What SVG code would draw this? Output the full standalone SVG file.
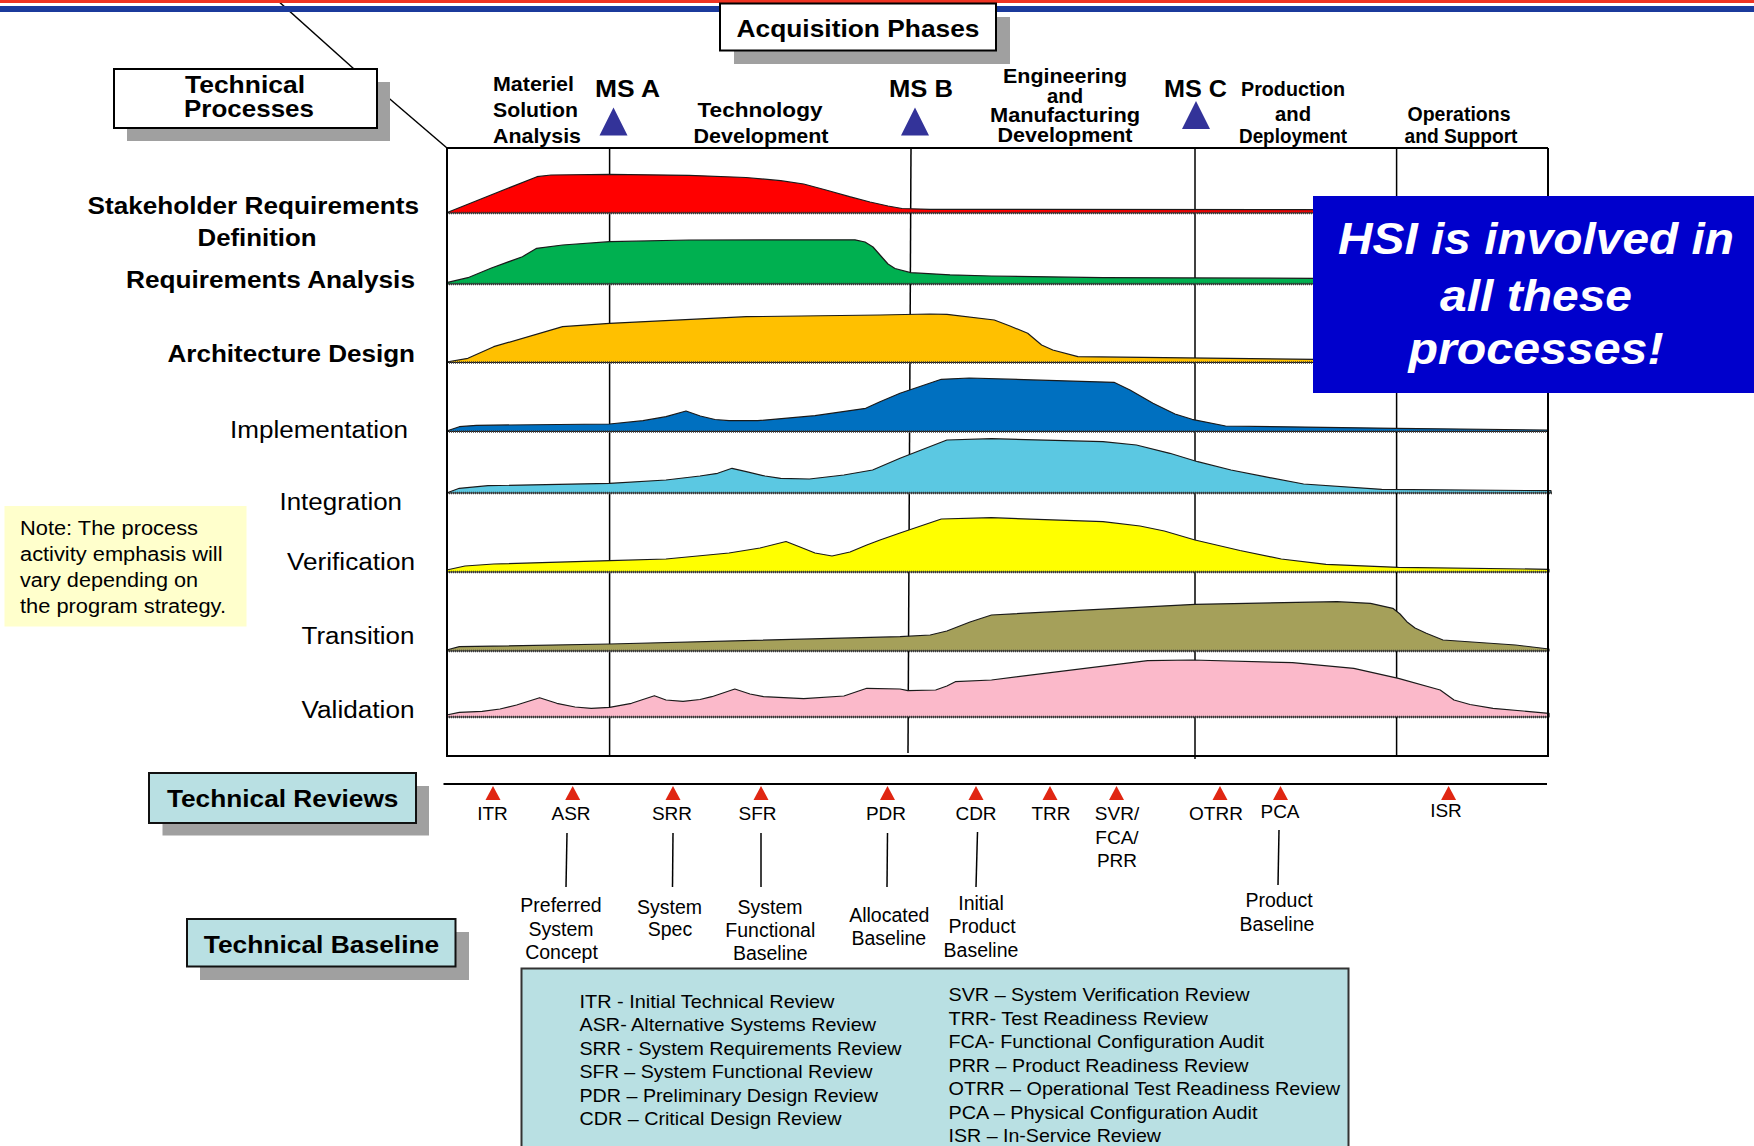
<svg xmlns="http://www.w3.org/2000/svg" xmlns:xlink="http://www.w3.org/1999/xlink" width="1754" height="1146" viewBox="0 0 1754 1146">
  <style>
    text { font-family: "Liberation Sans", Arial, Helvetica, sans-serif; fill: #000; }
    .b { font-weight: bold; }
    .mid { text-anchor: middle; }
    .end { text-anchor: end; }
    .phase { font-size: 21px; font-weight: bold; }
    .ms { font-size: 24px; font-weight: bold; }
    .row { font-size: 23px; font-weight: bold; }
    .rowr { font-size: 23.5px; }
    .rev { font-size: 19px; text-anchor: middle; }
    .base { font-size: 19.5px; text-anchor: middle; }
    .leg { font-size: 18.5px; }
    .note { font-size: 20px; }
    .hsi { font-size: 45px; font-weight: bold; font-style: italic; fill: #fff; text-anchor: middle; }
    .title { font-size: 24px; font-weight: bold; text-anchor: middle; }
    .frame { stroke: #000; stroke-width: 2; fill: none; }
    .grid { stroke: #000; stroke-width: 1.5; fill: none; }
    .curve { stroke: #1a1a1a; stroke-width: 1.2; stroke-linejoin: round; }
    .sep { stroke: #3a3a3a; stroke-width: 2.6; stroke-dasharray: 1 1; fill: none; }
    .shadow { fill: #a0a0a0; }
    .teal { fill: #b9e0e3; stroke: #111; stroke-width: 2; }
    .wbox { fill: #fff; stroke: #000; stroke-width: 2; }
    .lead { stroke: #000; stroke-width: 1.5; fill: none; }
  </style>
  <defs>
    <path id="msTri" d="M0,0 L14,28 L-14,28 Z" fill="#333399"/>
    <path id="revTri" d="M0,0 L7.5,14 L-7.5,14 Z" fill="#e02612"/>
  </defs>

  <rect x="0" y="0" width="1754" height="1146" fill="#fff"/>

  <!-- leader lines from the Technical Processes label -->
  <g id="connectors">
    <line class="lead" x1="277" y1="0" x2="354" y2="69"/>
    <line class="lead" x1="377" y1="88" x2="447" y2="148"/>
    <!-- review to baseline ties -->
    <line class="lead" x1="567" y1="833" x2="566" y2="887"/>
    <line class="lead" x1="673" y1="833" x2="672.5" y2="887"/>
    <line class="lead" x1="761" y1="833" x2="761" y2="887"/>
    <line class="lead" x1="887.5" y1="833" x2="887" y2="887"/>
    <line class="lead" x1="977.5" y1="832" x2="976" y2="887"/>
    <line class="lead" x1="1279" y1="830" x2="1278" y2="885"/>
  </g>

  <!-- header stripes -->
  <g id="header-bars">
    <rect x="0" y="0" width="1754" height="3" fill="#ee3322"/>
    <rect x="0" y="6" width="1754" height="6" fill="#1b3a9c"/>
  </g>

  <!-- label boxes -->
  <g id="acquisition-phases">
    <rect class="shadow" x="734" y="17" width="276" height="47"/>
    <rect class="wbox" x="720" y="3.5" width="276" height="47"/>
    <text class="title" x="858" y="37" font-size="25.5" textLength="243" lengthAdjust="spacingAndGlyphs">Acquisition Phases</text>
  </g>

  <g id="technical-processes">
    <rect class="shadow" x="127" y="82" width="263" height="59"/>
    <rect class="wbox" x="114" y="69" width="263" height="59"/>
    <text class="title" x="245" y="93" font-size="23" textLength="120" lengthAdjust="spacingAndGlyphs">Technical</text>
    <text class="title" x="249" y="117" font-size="23" textLength="130" lengthAdjust="spacingAndGlyphs">Processes</text>
  </g>

  <!-- acquisition phase headings and milestones -->
  <g id="phases">
    <text class="phase" x="493" y="91" textLength="81" lengthAdjust="spacingAndGlyphs">Materiel</text>
    <text class="phase" x="493" y="117" textLength="85" lengthAdjust="spacingAndGlyphs">Solution</text>
    <text class="phase" x="493" y="143" textLength="88" lengthAdjust="spacingAndGlyphs">Analysis</text>
    <text class="phase mid" x="760" y="117" textLength="125" lengthAdjust="spacingAndGlyphs">Technology</text>
    <text class="phase mid" x="761" y="143" textLength="135" lengthAdjust="spacingAndGlyphs">Development</text>
    <text class="phase mid" x="1065" y="83" textLength="124" lengthAdjust="spacingAndGlyphs">Engineering</text>
    <text class="phase mid" x="1065" y="102.5" textLength="36" lengthAdjust="spacingAndGlyphs">and</text>
    <text class="phase mid" x="1065" y="122" textLength="150" lengthAdjust="spacingAndGlyphs">Manufacturing</text>
    <text class="phase mid" x="1065" y="142" textLength="135" lengthAdjust="spacingAndGlyphs">Development</text>
    <text class="phase mid" x="1293" y="96" font-size="20" textLength="104" lengthAdjust="spacingAndGlyphs">Production</text>
    <text class="phase mid" x="1293" y="120.5" font-size="20" textLength="36" lengthAdjust="spacingAndGlyphs">and</text>
    <text class="phase mid" x="1293" y="142.5" font-size="20" textLength="108" lengthAdjust="spacingAndGlyphs">Deployment</text>
    <text class="phase mid" x="1459" y="120.5" font-size="20" textLength="103" lengthAdjust="spacingAndGlyphs">Operations</text>
    <text class="phase mid" x="1461" y="142.5" font-size="20" textLength="113" lengthAdjust="spacingAndGlyphs">and Support</text>
  </g>
  <g id="milestone-a">
    <text class="ms" x="595" y="97" textLength="65" lengthAdjust="spacingAndGlyphs">MS A</text>
    <use xlink:href="#msTri" x="613.5" y="107.5"/>
  </g>
  <g id="milestone-b">
    <text class="ms" x="889" y="97" textLength="64" lengthAdjust="spacingAndGlyphs">MS B</text>
    <use xlink:href="#msTri" x="915" y="107.5"/>
  </g>
  <g id="milestone-c">
    <text class="ms" x="1164" y="97" textLength="63" lengthAdjust="spacingAndGlyphs">MS C</text>
    <use xlink:href="#msTri" x="1196" y="101"/>
  </g>

  <!-- chart grid: phase dividers sit beneath the activity profiles -->
  <g id="chart-grid">
    <line class="grid" x1="609.6" y1="148" x2="609.6" y2="756"/>
    <line class="grid" x1="911" y1="148" x2="908" y2="753"/>
    <line class="grid" x1="1195" y1="148" x2="1195" y2="759"/>
    <line class="grid" x1="1396.6" y1="148" x2="1396.6" y2="756"/>
  </g>

  <!-- activity emphasis profiles -->
  <g id="stakeholder-requirements">
    <path class="curve" fill="#ff0000" d="M446.6,213 L446.6,212.7 L537,176.7 L551,175 L609.6,174.3 L689,175.3 L746,177.5 L780.7,180.7 L803.7,184 L826,190 L849.6,196.7 L870,202 L888,206 L902,208.5 L930,209.3 L1548,209.8 L1548,213 Z"/>
  </g>
  <g id="requirements-analysis">
    <path class="curve" fill="#00b050" d="M446.6,284 L446.6,282.7 L467.9,277.7 L490.8,268.3 L522.4,256.7 L536.7,248.3 L562.6,245 L609.6,241.7 L689,240 L855,239.8 L865,242 L873,247 L880,255 L888,264 L895,268.5 L910.7,272.7 L950,274.8 L991.5,276 L1103,277.7 L1314.8,278.3 L1548,278.5 L1548,284 Z"/>
  </g>
  <g id="architecture-design">
    <path class="curve" fill="#ffc000" d="M446.6,362.5 L446.6,362 L467.9,358.3 L493.7,346.7 L562.6,326.7 L609.6,323.3 L746.3,316.7 L880,315 L930,314 L947,314.3 L994.3,320 L1010,326 L1027.7,333.3 L1041.6,345 L1052.8,350 L1077.9,356.7 L1314.8,359.3 L1548,359.5 L1548,362.5 Z"/>
  </g>
  <g id="implementation">
    <path class="curve" fill="#0070c0" d="M446.6,431.5 L446.6,431 L459.3,426.7 L476.5,425.3 L609.6,424 L643,420.7 L666,416.7 L686,411 L700.3,416 L715,419.5 L729,420.7 L757.7,420.7 L815,415.7 L865.7,408.3 L880,401.7 L900,393.3 L941.3,379.3 L969.2,378 L1114,382.3 L1130,390 L1153,403.3 L1175,414 L1192,419.3 L1225.6,426 L1395.6,428.3 L1548,430 L1548,431.5 Z"/>
  </g>
  <g id="integration">
    <path class="curve" fill="#5bc8e2" d="M446.6,493 L459.3,488.3 L488,485.7 L609.6,483.3 L666,480 L700,476 L717.6,473.3 L732,468.3 L746.3,471.7 L765,476 L780.7,478.3 L809.4,479 L843.9,475 L872.6,470 L900,458.3 L946.9,440 L991.5,438.7 L1103,441.7 L1136.4,445 L1169.9,453.3 L1197.7,461.7 L1231,470 L1264.6,476.7 L1303.6,484 L1381.7,489.3 L1551,490.7 L1551,493 Z"/>
  </g>
  <g id="verification">
    <path class="curve" fill="#ffff00" d="M446.6,572 L446.6,570 L465,566 L493.7,564 L609.6,560.7 L666,559 L729,553 L760,548 L786,541.5 L800,547 L815,553 L832,556 L850,552 L866.8,545 L880,540 L900,533 L941.3,519 L991.5,517.7 L1103,521.7 L1140,526 L1164.3,531 L1195,540 L1240,550.5 L1281.3,559 L1326,564.3 L1398.4,567.3 L1549,569.3 L1549,572 Z"/>
  </g>
  <g id="transition">
    <path class="curve" fill="#a5a05a" d="M446.6,651 L446.6,650 L459.3,646.7 L609.6,644 L900,636.7 L930.2,635 L946.9,631 L970,622 L991.5,615 L1195,604.3 L1337,601.7 L1370.5,603.3 L1392.8,608.3 L1400,614 L1406.8,621.7 L1415,628 L1426.3,633.3 L1443,640 L1515.5,645 L1549,649 L1549,651 Z"/>
  </g>
  <g id="validation">
    <path class="curve" fill="#fbb9ca" d="M446.6,717 L446.6,715 L459.3,712.3 L482.2,711.3 L500,709 L516.6,705 L539.6,697.7 L556.8,703.3 L575,707 L591.3,708.3 L609.6,707.3 L631.5,703.3 L654.4,695.7 L666,700 L683,701.3 L700,699.5 L711.8,696.7 L734.8,689 L750,694 L763.5,696.7 L803.7,698.7 L843.9,696 L866.8,688.3 L900,689 L907.9,690.7 L935.7,690 L946.9,686 L955.3,681.7 L991.5,680 L1147.6,660.7 L1192,660 L1292.5,662.7 L1353.8,668.3 L1398.4,678.3 L1440.2,690 L1454,700 L1470,704.5 L1493,708.3 L1549,713.3 L1549,717 Z"/>
  </g>

  <!-- row baselines and chart frame -->
  <g id="row-baselines">
    <line class="sep" x1="447" y1="213" x2="1548" y2="213"/>
    <line class="sep" x1="447" y1="284" x2="1548" y2="284"/>
    <line class="sep" x1="447" y1="362.5" x2="1548" y2="362.5"/>
    <line class="sep" x1="447" y1="431.5" x2="1548" y2="431.5"/>
    <line class="sep" x1="447" y1="493" x2="1552" y2="493"/>
    <line class="sep" x1="447" y1="572" x2="1548" y2="572"/>
    <line class="sep" x1="447" y1="651" x2="1548" y2="651"/>
    <line class="sep" x1="447" y1="717" x2="1548" y2="717"/>
  </g>
  <g id="chart-frame">
    <line class="frame" x1="447" y1="148" x2="1548" y2="148"/>
    <line class="frame" x1="447" y1="148" x2="447" y2="757"/>
    <line class="frame" x1="1548" y1="148" x2="1548" y2="757"/>
    <line class="frame" x1="446" y1="756" x2="1549" y2="756" stroke-width="2.5"/>
  </g>

  <!-- process names -->
  <g id="process-labels">
    <text class="row end" x="419" y="214" textLength="331.5" lengthAdjust="spacingAndGlyphs">Stakeholder Requirements</text>
    <text class="row mid" x="257" y="246" textLength="119" lengthAdjust="spacingAndGlyphs">Definition</text>
    <text class="row end" x="415" y="288" textLength="289" lengthAdjust="spacingAndGlyphs">Requirements Analysis</text>
    <text class="row end" x="415" y="362" textLength="247.5" lengthAdjust="spacingAndGlyphs">Architecture Design</text>
    <text class="rowr end" x="408" y="438" textLength="178" lengthAdjust="spacingAndGlyphs">Implementation</text>
    <text class="rowr end" x="402" y="510" textLength="122.5" lengthAdjust="spacingAndGlyphs">Integration</text>
    <text class="rowr end" x="415" y="570" textLength="128" lengthAdjust="spacingAndGlyphs">Verification</text>
    <text class="rowr end" x="414.5" y="644" textLength="113" lengthAdjust="spacingAndGlyphs">Transition</text>
    <text class="rowr end" x="414.5" y="717.5" textLength="113" lengthAdjust="spacingAndGlyphs">Validation</text>
  </g>

  <!-- call-out -->
  <g id="hsi-callout">
    <rect x="1313" y="196" width="441" height="197" fill="#0000cc"/>
    <text class="hsi" x="1536" y="254" textLength="396" lengthAdjust="spacingAndGlyphs">HSI is involved in</text>
    <text class="hsi" x="1536" y="311" textLength="192" lengthAdjust="spacingAndGlyphs">all these</text>
    <text class="hsi" x="1536" y="364" textLength="255" lengthAdjust="spacingAndGlyphs">processes!</text>
  </g>

  <g id="strategy-note">
    <rect x="4.5" y="506" width="242" height="120.5" fill="#ffffcc"/>
    <text class="note" x="20" y="535" textLength="178" lengthAdjust="spacingAndGlyphs">Note: The process</text>
    <text class="note" x="20" y="561" textLength="202.5" lengthAdjust="spacingAndGlyphs">activity emphasis will</text>
    <text class="note" x="20" y="587" textLength="178" lengthAdjust="spacingAndGlyphs">vary depending on</text>
    <text class="note" x="20" y="613" textLength="206" lengthAdjust="spacingAndGlyphs">the program strategy.</text>
  </g>

  <!-- technical reviews timeline -->
  <g id="technical-reviews">
    <rect class="shadow" x="162.5" y="786" width="266.5" height="49.5"/>
    <rect class="teal" x="149" y="773" width="267" height="50"/>
    <text class="title" x="282.7" y="807" textLength="231.5" lengthAdjust="spacingAndGlyphs">Technical Reviews</text>
  </g>
  <g id="review-timeline">
    <line x1="443.5" y1="784" x2="1547" y2="784" stroke="#000" stroke-width="2"/>
  </g>
  <g id="review-itr"><use xlink:href="#revTri" x="493" y="786"/><text class="rev" x="492.5" y="820">ITR</text></g>
  <g id="review-asr"><use xlink:href="#revTri" x="572.7" y="786"/><text class="rev" x="571" y="820">ASR</text></g>
  <g id="review-srr"><use xlink:href="#revTri" x="673" y="786"/><text class="rev" x="672" y="820">SRR</text></g>
  <g id="review-sfr"><use xlink:href="#revTri" x="761" y="786"/><text class="rev" x="757.5" y="820">SFR</text></g>
  <g id="review-pdr"><use xlink:href="#revTri" x="887.5" y="786"/><text class="rev" x="886" y="820">PDR</text></g>
  <g id="review-cdr"><use xlink:href="#revTri" x="976" y="786"/><text class="rev" x="976" y="820">CDR</text></g>
  <g id="review-trr"><use xlink:href="#revTri" x="1050" y="786"/><text class="rev" x="1051" y="820">TRR</text></g>
  <g id="review-svr">
    <use xlink:href="#revTri" x="1116.5" y="786"/>
    <text class="rev" x="1117" y="820">SVR/</text>
    <text class="rev" x="1117" y="844">FCA/</text>
    <text class="rev" x="1117" y="867">PRR</text>
  </g>
  <g id="review-otrr"><use xlink:href="#revTri" x="1220" y="786"/><text class="rev" x="1216" y="820">OTRR</text></g>
  <g id="review-pca"><use xlink:href="#revTri" x="1280.5" y="786"/><text class="rev" x="1280" y="818">PCA</text></g>
  <g id="review-isr"><use xlink:href="#revTri" x="1448.6" y="786"/><text class="rev" x="1446" y="817">ISR</text></g>

  <!-- technical baselines -->
  <g id="technical-baseline">
    <rect class="shadow" x="200" y="932" width="269" height="48"/>
    <rect class="teal" x="187" y="919" width="268.5" height="47.5"/>
    <text class="title" x="321.5" y="953" textLength="235.5" lengthAdjust="spacingAndGlyphs">Technical Baseline</text>
  </g>
  <g id="baseline-preferred-concept">
    <text class="base" x="561" y="912">Preferred</text>
    <text class="base" x="561" y="936">System</text>
    <text class="base" x="561.5" y="959">Concept</text>
  </g>
  <g id="baseline-system-spec">
    <text class="base" x="669.5" y="914" font-size="17.5">System</text>
    <text class="base" x="670" y="936" font-size="17.5">Spec</text>
  </g>
  <g id="baseline-functional">
    <text class="base" x="770" y="914">System</text>
    <text class="base" x="770.3" y="937">Functional</text>
    <text class="base" x="770.3" y="960">Baseline</text>
  </g>
  <g id="baseline-allocated">
    <text class="base" x="889.3" y="922">Allocated</text>
    <text class="base" x="888.8" y="945">Baseline</text>
  </g>
  <g id="baseline-initial-product">
    <text class="base" x="981" y="910">Initial</text>
    <text class="base" x="982" y="933">Product</text>
    <text class="base" x="981" y="956.5">Baseline</text>
  </g>
  <g id="baseline-product">
    <text class="base" x="1279" y="907">Product</text>
    <text class="base" x="1277" y="930.5">Baseline</text>
  </g>

  <!-- acronym legend -->
  <g id="review-legend">
    <rect x="521.5" y="968.5" width="827" height="190" fill="#b9e0e3" stroke="#333" stroke-width="2"/>
    <text class="leg" x="579.5" y="1008" textLength="255" lengthAdjust="spacingAndGlyphs">ITR - Initial Technical Review</text>
    <text class="leg" x="579.5" y="1031.3" textLength="296.5" lengthAdjust="spacingAndGlyphs">ASR- Alternative Systems Review</text>
    <text class="leg" x="579.5" y="1054.8" textLength="322" lengthAdjust="spacingAndGlyphs">SRR - System Requirements Review</text>
    <text class="leg" x="579.5" y="1078.3" textLength="293" lengthAdjust="spacingAndGlyphs">SFR – System Functional Review</text>
    <text class="leg" x="579.5" y="1101.8" textLength="298.5" lengthAdjust="spacingAndGlyphs">PDR – Preliminary Design Review</text>
    <text class="leg" x="579.5" y="1125.3" textLength="262" lengthAdjust="spacingAndGlyphs">CDR – Critical Design Review</text>
    <text class="leg" x="948.5" y="1001" textLength="301" lengthAdjust="spacingAndGlyphs">SVR – System Verification Review</text>
    <text class="leg" x="948.5" y="1024.5" textLength="259.5" lengthAdjust="spacingAndGlyphs">TRR- Test Readiness Review</text>
    <text class="leg" x="948.5" y="1048" textLength="315.5" lengthAdjust="spacingAndGlyphs">FCA- Functional Configuration Audit</text>
    <text class="leg" x="948.5" y="1071.5" textLength="300" lengthAdjust="spacingAndGlyphs">PRR – Product Readiness Review</text>
    <text class="leg" x="948.5" y="1095" textLength="391.5" lengthAdjust="spacingAndGlyphs">OTRR – Operational Test Readiness Review</text>
    <text class="leg" x="948.5" y="1118.5" textLength="309" lengthAdjust="spacingAndGlyphs">PCA – Physical Configuration Audit</text>
    <text class="leg" x="948.5" y="1142" textLength="212.5" lengthAdjust="spacingAndGlyphs">ISR – In-Service Review</text>
  </g>
</svg>
